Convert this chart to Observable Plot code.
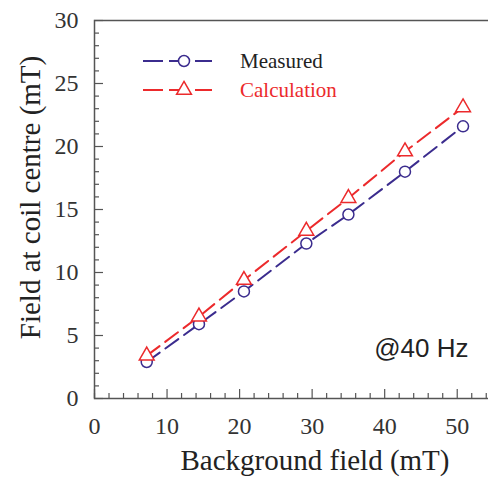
<!DOCTYPE html>
<html><head><meta charset="utf-8">
<script src="https://cdn.jsdelivr.net/npm/d3@7"></script>
<script src="https://cdn.jsdelivr.net/npm/@observablehq/plot@0.6"></script>
<style>
body{margin:0;background:#fff;overflow:hidden}
#chart{position:relative;width:488px;height:483px;overflow:hidden}
</style>
</head><body><div id="chart"></div>
<script>
// Data
const background = [7.2, 14.4, 20.6, 29.2, 35.0, 42.8, 50.8];      // Background field (mT)
const measured = [2.9, 5.9, 8.5, 12.3, 14.6, 18.0, 21.6];           // Measured (mT)
const calculation = [3.4, 6.5, 9.4, 13.3, 15.9, 19.6, 23.1];        // Calculation (mT)
const xTickValues = [0, 10, 20, 30, 40, 50];
const yTickValues = [0, 5, 10, 15, 20, 25, 30];
const xMinorTicks = [0,2,4,6,8,12,14,16,18,22,24,26,28,32,34,36,38,42,44,46,48,52,54];
const yMinorTicks = [1,2,3,4,6,7,8,9,11,12,13,14,16,17,18,19,21,22,23,24,26,27,28,29];
const seriesNames = ["Measured", "Calculation"];

const W = 488, H = 483;
const mL = 94, mR = -5, mT = 20, mB = 85;
const frameW = W - mR - mL, frameH = H - mT - mB;
const blue = "#3b2c8e", red = "#ec2a2c", axisColor = "#555";
const serif = "'Liberation Serif','Times New Roman',serif";
const sans = "'Liberation Sans',Arial,sans-serif";

const rows = background.map((b, i) => ({b, m: measured[i], c: calculation[i]}));

const plot = Plot.plot({
  width: W, height: H,
  marginLeft: mL, marginRight: mR, marginTop: mT, marginBottom: mB,
  x: {domain: [0, 55]},
  y: {domain: [0, 30]},
  style: {fontFamily: serif, background: "white"},
  marks: [
    Plot.frame({stroke: axisColor, strokeWidth: 1.5}),
    // inward ticks
    Plot.ruleX(xMinorTicks, {x: d => d, insetTop: frameH - 5, stroke: axisColor, strokeWidth: 1.2}),
    Plot.ruleX(xTickValues, {x: d => d, insetTop: frameH - 9, stroke: axisColor, strokeWidth: 1.2}),
    Plot.ruleY(yMinorTicks, {y: d => d, insetRight: frameW - 5, stroke: axisColor, strokeWidth: 1.2}),
    Plot.ruleY(yTickValues, {y: d => d, insetRight: frameW - 9, stroke: axisColor, strokeWidth: 1.2}),
    Plot.axisX(xTickValues, {tickSize: 0, tickPadding: 18, fontSize: 24, fill: "#333", label: null}),
    Plot.axisY(yTickValues, {tickSize: 0, tickPadding: 16, fontSize: 24, fill: "#333", label: null}),
    // series
    Plot.line(rows, {x: "b", y: "m", stroke: blue, strokeWidth: 2, strokeDasharray: "16,7"}),
    Plot.line(rows, {x: "b", y: "c", stroke: red, strokeWidth: 2, strokeDasharray: "16,7"}),
    Plot.dot(rows, {x: "b", y: "m", symbol: "circle", r: 5.5, stroke: blue, fill: "white", strokeWidth: 1.5}),
    Plot.dot(rows, {x: "b", y: "c", symbol: "triangle", r: 5.5, stroke: red, fill: "white", strokeWidth: 1.5}),
    // labels
    Plot.text(["Background field (mT)"], {frameAnchor: "bottom", dx: 21, dy: 62, textAnchor: "middle", lineAnchor: "middle", fontSize: 29, fill: "#222"}),
    Plot.text(["Field at coil centre (mT)"], {frameAnchor: "left", rotate: -90, dx: -64, dy: -12, textAnchor: "middle", lineAnchor: "middle", fontSize: 29, fill: "#222"}),
    Plot.text(["@40 Hz"], {frameAnchor: "bottom-right", dx: -25, dy: -50, textAnchor: "end", lineAnchor: "middle", fontSize: 26, fontFamily: sans, fill: "#222"})
  ]
});

// legend inside the plot area
const svg = d3.select(plot);
const legend = svg.append("g");
const items = [
  {label: seriesNames[0], color: blue, symbol: d3.symbolCircle, text: "#222"},
  {label: seriesNames[1], color: red, symbol: d3.symbolTriangle, text: red}
];
items.forEach((it, i) => {
  const y = 61 + i * 29;
  const g = legend.append("g");
  g.append("line").attr("x1", 143).attr("x2", 212).attr("y1", y).attr("y2", y)
    .attr("stroke", it.color).attr("stroke-width", 2).attr("stroke-dasharray", "20,6");
  g.append("path").attr("d", d3.symbol(it.symbol, 5.5 * 5.5 * Math.PI)())
    .attr("transform", `translate(184,${y})`)
    .attr("fill", "white").attr("stroke", it.color).attr("stroke-width", 1.5);
  g.append("text").attr("x", 240).attr("y", y).attr("dy", "0.32em")
    .attr("text-anchor", "start")
    .attr("font-family", serif).attr("font-size", 21).attr("fill", it.text).text(it.label);
});

document.getElementById("chart").appendChild(plot);
</script>
</body></html>
